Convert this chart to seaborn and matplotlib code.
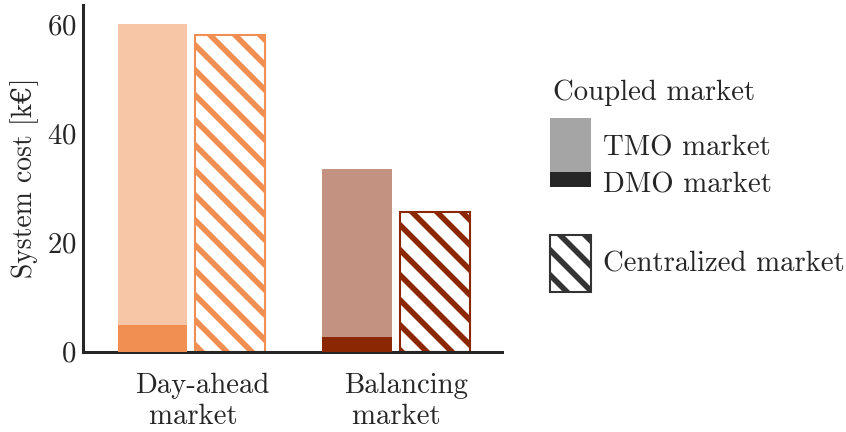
import matplotlib
matplotlib.use("Agg")
import matplotlib.pyplot as plt
from matplotlib.patches import Rectangle
import seaborn as sns
import pandas as pd

# Values in k€
markets = ["Day-ahead\nmarket  ", "Balancing\nmarket  "]
tmo_cost = [55.2, 30.8]          # TMO share of the coupled market
dmo_cost = [4.9, 2.6]            # DMO share of the coupled market
centralized_cost = [58.0, 25.6]  # centralized market
schemes = ["Coupled", "Centralized"]

market_colors = ["#F08F51", "#8B2703"]
text_color = "#262626"
fs = 13.8

sns.set_style("white")
plt.rcParams.update({
    "font.family": ["cmr10", "DejaVu Serif"],
    "mathtext.fontset": "cm",
    "axes.formatter.use_mathtext": True,
    "font.size": fs,
    "text.color": text_color,
    "axes.labelcolor": text_color,
    "xtick.color": text_color,
    "ytick.color": text_color,
    "hatch.linewidth": 2.7,
    "axes.edgecolor": text_color,
    "axes.linewidth": 1.45,
})

coupled_total = [t + d for t, d in zip(tmo_cost, dmo_cost)]
top_df = pd.DataFrame({
    "market": markets * 2,
    "scheme": [schemes[0]] * 2 + [schemes[1]] * 2,
    "cost": coupled_total + centralized_cost,
})
# DMO layer: only the coupled market has a DMO share
dmo_df = pd.DataFrame({
    "market": markets * 2,
    "scheme": [schemes[0]] * 2 + [schemes[1]] * 2,
    "cost": dmo_cost + [0.0, 0.0],
})

fig = plt.figure(figsize=(5.64, 2.88), dpi=150)
ax = fig.add_axes([0.0981, 0.1861, 0.4953, 0.8023])

bar_kw = dict(x="market", y="cost", hue="scheme", order=markets,
              hue_order=schemes, width=0.76, gap=0.1, errorbar=None,
              legend=False, ax=ax)
sns.barplot(data=top_df, **bar_kw)
sns.barplot(data=dmo_df, **bar_kw)

for i, cont in enumerate(ax.containers):
    for bar in cont:
        cx = bar.get_x() + bar.get_width() / 2
        color = market_colors[0] if cx < 0.5 else market_colors[1]
        if i == 1:
            # centralized market: hatched, outlined
            bar.set_facecolor("white")
            bar.set_edgecolor(color)
            bar.set_hatch("\\\\")
            bar.set_linewidth(1.0)
        elif i == 0:
            # coupled market total (TMO part shows above DMO)
            bar.set_facecolor(color)
            bar.set_alpha(0.5)
            bar.set_edgecolor("none")
            bar.set_linewidth(0)
        else:
            bar.set_facecolor(color)
            bar.set_edgecolor("none")
            bar.set_linewidth(0)
            bar.set_zorder(3)

ax.set_xlim(-0.53, 1.52)
ax.set_ylim(0, 63.5)
ax.set_yticks([0, 20, 40, 60])
ax.set_xticks([0.055, 1.05])
ax.set_xticklabels(markets, multialignment="center", linespacing=1.25)
ax.tick_params(axis="both", length=0, labelsize=fs)
ax.tick_params(axis="y", pad=3)
ax.tick_params(axis="x", pad=10)
ax.set_xlabel("")
ax.set_ylabel("System cost [k€]", fontsize=13.3, labelpad=4)
sns.despine(ax=ax)

# Legend drawn on an overlay in pixel units
leg = fig.add_axes([0, 0, 1, 1], facecolor="none")
leg.set_xlim(0, 846)
leg.set_ylim(432, 0)
leg.axis("off")
leg.text(553, 100, "Coupled market", fontsize=fs, va="baseline", ha="left")
leg.add_patch(Rectangle((550, 118), 41, 54, facecolor="#262626", alpha=0.41,
                        edgecolor="none"))
leg.add_patch(Rectangle((550, 172), 41, 15, facecolor="#262626",
                        edgecolor="none"))
leg.text(603, 156, "TMO market", fontsize=fs, va="baseline", ha="left")
leg.text(603, 192.5, "DMO market", fontsize=fs, va="baseline", ha="left")
leg.add_patch(Rectangle((550, 235), 41, 57, facecolor="white",
                        edgecolor="#333333", hatch="\\\\", linewidth=1.0))
leg.text(603, 271.5, "Centralized market", fontsize=fs, va="baseline",
         ha="left")

fig.savefig("out.png", dpi=150)
